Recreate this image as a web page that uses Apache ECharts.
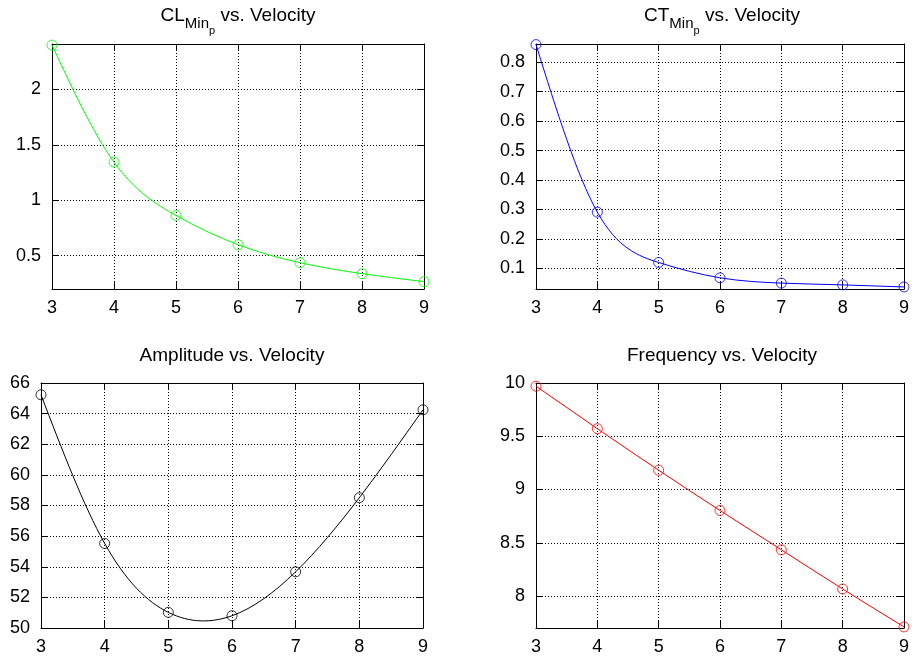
<!DOCTYPE html>
<html>
<head>
<meta charset="utf-8">
<script src="https://cdn.jsdelivr.net/npm/echarts@6/dist/echarts.min.js"></script>
<style>html,body{margin:0;padding:0;background:#fff}#c{width:912px;height:658px}</style>
</head>
<body>
<div id="c"></div>
<script>
// ---- data ----
const velocity = [3, 4, 5, 6, 7, 8, 9];
const clMinP = [2.40, 1.344, 0.863, 0.599, 0.437, 0.338, 0.266];
const ctMinP = [0.860, 0.291, 0.120, 0.068, 0.050, 0.044, 0.037];
const amplitude = [65.23, 55.52, 51.02, 50.80, 53.67, 58.51, 64.25];
const frequency = [9.97, 9.571, 9.181, 8.803, 8.434, 8.066, 7.71];

// ---- tick labels ----
const xTicks = [3, 4, 5, 6, 7, 8, 9];
const clTicks = [0.5, 1, 1.5, 2];
const ctTicks = [0.1, 0.2, 0.3, 0.4, 0.5, 0.6, 0.7, 0.8];
const ampTicks = [50, 52, 54, 56, 58, 60, 62, 64, 66];
const freqTicks = [8, 8.5, 9, 9.5, 10];

// ---- titles ----
const titles = [
  '{n|CL}{s|Min}{ss|p}{n| vs. Velocity}',
  '{n|CT}{s|Min}{ss|p}{n| vs. Velocity}',
  '{n|Amplitude vs. Velocity}',
  '{n|Frequency vs. Velocity}'
];

const FONT = 'Liberation Sans';
const panels = [
  { grid: { left: 52, top: 44, width: 372, height: 245 }, y: clMinP, color: '#00ff00', ticks: clTicks, min: 0.2, max: 2.41 },
  { grid: { left: 536, top: 44, width: 372, height: 245 }, y: ctMinP, color: '#0000ff', ticks: ctTicks, min: 0.03, max: 0.862 },
  { grid: { left: 41, top: 383, width: 382, height: 245 }, y: amplitude, color: '#000000', ticks: ampTicks, min: 50, max: 66 },
  { grid: { left: 536, top: 383, width: 372, height: 245 }, y: frequency, color: '#ff0000', ticks: freqTicks, min: 7.7, max: 10 }
];

// natural cubic spline second derivatives (shape of the drawn curve through the data points)
function splineM(xs, ys) {
  const n = xs.length, M = new Array(n).fill(0);
  const a = [], b = [], c = [], d = [];
  for (let i = 1; i < n - 1; i++) {
    const h0 = xs[i] - xs[i - 1], h1 = xs[i + 1] - xs[i];
    a.push(h0 / 6); b.push((h0 + h1) / 3); c.push(h1 / 6);
    d.push((ys[i + 1] - ys[i]) / h1 - (ys[i] - ys[i - 1]) / h0);
  }
  const m = d.length;
  for (let i = 1; i < m; i++) {
    const w = a[i] / b[i - 1];
    b[i] -= w * c[i - 1]; d[i] -= w * d[i - 1];
  }
  const sol = new Array(m);
  for (let i = m - 1; i >= 0; i--) sol[i] = (d[i] - (i < m - 1 ? c[i] * sol[i + 1] : 0)) / b[i];
  for (let i = 0; i < m; i++) M[i + 1] = sol[i];
  return M;
}

const option = { animation: false, backgroundColor: '#fff', grid: [], xAxis: [], yAxis: [], series: [], title: [] };
const axisLine = { show: true, lineStyle: { color: '#000', width: 1 } };
const dotted = { show: true, lineStyle: { color: '#000', width: 1, type: [1, 2] } };
const labelStyle = { color: '#000', fontFamily: FONT, fontSize: 18 };

panels.forEach((p, i) => {
  option.grid.push(Object.assign({ containLabel: false }, p.grid));
  const cx = p.grid.left + p.grid.width / 2;
  option.title.push({
    text: titles[i],
    left: cx, textAlign: 'center', padding: 0,
    top: i < 2 ? 6 : 346,
    textStyle: {
      rich: {
        n: { fontFamily: FONT, fontSize: 19, fontWeight: 'normal', color: '#000', lineHeight: 20, verticalAlign: 'top' },
        s: { fontFamily: FONT, fontSize: 15, fontWeight: 'normal', color: '#000', lineHeight: 16, verticalAlign: 'top', padding: [10, 0, 0, 0] },
        ss: { fontFamily: FONT, fontSize: 11, fontWeight: 'normal', color: '#000', lineHeight: 12, verticalAlign: 'top', padding: [19, 0, 0, 0] }
      }
    }
  });
  const tick = (vals) => ({ show: true, inside: true, length: 7, lineStyle: { color: '#000' }, customValues: vals });
  option.xAxis.push({
    type: 'value', gridIndex: i, position: 'bottom', min: 3, max: 9, interval: 1,
    axisLine: axisLine, axisTick: tick(xTicks),
    axisLabel: Object.assign({ margin: 10, customValues: xTicks }, labelStyle),
    splitLine: dotted
  });
  option.xAxis.push({
    type: 'value', gridIndex: i, position: 'top', min: 3, max: 9, interval: 1,
    axisLine: axisLine, axisTick: tick(xTicks),
    axisLabel: { show: false }, splitLine: { show: false }
  });
  option.yAxis.push({
    type: 'value', gridIndex: i, position: 'left', min: p.min, max: p.max,
    axisLine: axisLine, axisTick: tick(p.ticks),
    axisLabel: Object.assign({ margin: 11, customValues: p.ticks }, labelStyle),
    splitLine: dotted
  });
  option.yAxis.push({
    type: 'value', gridIndex: i, position: 'right', min: p.min, max: p.max,
    axisLine: axisLine, axisTick: tick(p.ticks),
    axisLabel: { show: false }, splitLine: { show: false }
  });
  const pts = velocity.map((v, k) => [v, p.y[k]]);
  const M = splineM(velocity, p.y);
  // smooth curve through the data points, placed by the axes' own coord()
  option.series.push({
    type: 'custom', xAxisIndex: 2 * i, yAxisIndex: 2 * i,
    data: pts, clip: false, z: 3,
    renderItem: function (params, api) {
      if (params.dataIndex !== 0) return null;
      const children = [];
      for (let k = 0; k < velocity.length - 1; k++) {
        const x0 = velocity[k], x1 = velocity[k + 1], y0 = p.y[k], y1 = p.y[k + 1];
        const h = x1 - x0, s = (y1 - y0) / h;
        const d0 = s - h * (2 * M[k] + M[k + 1]) / 6;
        const d1 = s + h * (M[k] + 2 * M[k + 1]) / 6;
        const a = api.coord([x0, y0]), b = api.coord([x1, y1]);
        const c1 = api.coord([x0 + h / 3, y0 + d0 * h / 3]);
        const c2 = api.coord([x1 - h / 3, y1 - d1 * h / 3]);
        children.push({
          type: 'bezierCurve',
          shape: { x1: a[0], y1: a[1], x2: b[0], y2: b[1], cpx1: c1[0], cpy1: c1[1], cpx2: c2[0], cpy2: c2[1] },
          style: { stroke: p.color, fill: null, lineWidth: 1 }
        });
      }
      return { type: 'group', children: children };
    }
  });
  option.series.push({
    type: 'scatter', xAxisIndex: 2 * i, yAxisIndex: 2 * i,
    data: pts, clip: false, z: 4,
    symbol: 'circle', symbolSize: 10,
    itemStyle: { color: 'rgba(0,0,0,0)', borderColor: p.color, borderWidth: 1 }
  });
});

const chart = echarts.init(document.getElementById('c'), null, { renderer: 'canvas' });
chart.setOption(option);
</script>
</body>
</html>
